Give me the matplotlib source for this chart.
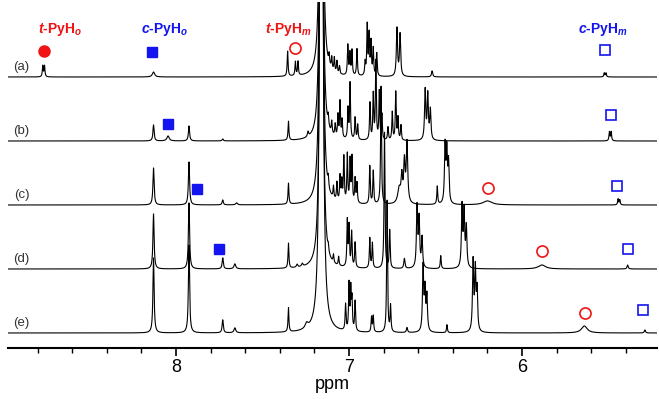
import numpy as np
import matplotlib
matplotlib.use("Agg")
import matplotlib.pyplot as plt

plt.rcParams['font.family'] = ['Liberation Sans', 'DejaVu Sans']
plt.rcParams['mathtext.fontset'] = 'custom'
plt.rcParams['mathtext.rm'] = 'Liberation Sans'
plt.rcParams['mathtext.it'] = 'Liberation Sans:italic'
plt.rcParams['mathtext.bf'] = 'Liberation Sans:bold'
plt.rcParams['mathtext.bfit'] = 'Liberation Sans:italic:bold'

RED = '#f01414'
BLUE = '#1414f0'

trace_names = ["(a)", "(b)", "(c)", "(d)", "(e)"]

# peak lists: (shift ppm, intensity, half width ppm)
peaks_a = [(8.77, 11, 0.003), (8.76, 11, 0.003), (8.13, 5, 0.008), (7.355, 25, 0.003),
           (7.31, 14, 0.003), (7.295, 14, 0.003), (7.16, 13000, 0.0015),
           (7.115, 10, 0.003), (7.10, 12, 0.003), (7.085, 14, 0.003), (7.07, 12, 0.003),
           (7.055, 8, 0.003), (7.007, 30, 0.003), (6.995, 22, 0.003), (6.983, 25, 0.003),
           (6.954, 27, 0.003), (6.907, 13, 0.003), (6.895, 50, 0.003), (6.884, 40, 0.003),
           (6.873, 33, 0.003), (6.86, 27, 0.003), (6.84, 23, 0.003), (6.723, 48, 0.004),
           (6.705, 42, 0.004), (6.52, 6, 0.004), (5.525, 4, 0.003), (5.515, 4, 0.003)]

peaks_b = [(8.13, 16, 0.004), (8.046, 5, 0.008), (7.925, 15, 0.004), (7.73, 2, 0.004),
           (7.35, 19, 0.003), (7.237, 5, 0.004), (7.16, 13000, 0.0015),
           (7.12, 10, 0.003), (7.10, 12, 0.003), (7.08, 12, 0.003), (7.064, 22, 0.003),
           (7.052, 36, 0.003), (7.04, 18, 0.003), (7.006, 30, 0.003), (6.994, 56, 0.003),
           (6.965, 22, 0.003), (6.95, 15, 0.003), (6.879, 37, 0.003), (6.86, 45, 0.003),
           (6.845, 78, 0.003), (6.825, 48, 0.003), (6.81, 25, 0.003), (6.775, 13, 0.003),
           (6.75, 28, 0.003), (6.73, 48, 0.003), (6.717, 22, 0.003), (6.70, 15, 0.003),
           (6.56, 50, 0.004), (6.545, 45, 0.004), (6.53, 30, 0.004),
           (5.495, 9, 0.003), (5.485, 9, 0.003)]

peaks_c = [(8.13, 37, 0.004), (7.925, 43, 0.004), (7.73, 5, 0.004), (7.65, 2, 0.006),
           (7.35, 21, 0.003), (7.16, 15000, 0.0015),
           (7.12, 10, 0.003), (7.09, 12, 0.003), (7.07, 18, 0.003), (7.052, 25, 0.003),
           (7.042, 20, 0.003), (7.03, 45, 0.003), (7.01, 48, 0.003), (6.994, 42, 0.003),
           (6.983, 45, 0.003), (6.965, 24, 0.003), (6.954, 20, 0.003), (6.88, 38, 0.003),
           (6.86, 33, 0.003), (6.815, 118, 0.003), (6.71, 15, 0.01), (6.695, 25, 0.005),
           (6.68, 40, 0.005), (6.665, 60, 0.005), (6.49, 18, 0.003),
           (6.445, 57, 0.004), (6.435, 50, 0.004), (6.425, 40, 0.004),
           (6.20, 4, 0.03), (5.445, 6, 0.003), (5.435, 5, 0.003)]

peaks_d = [(8.13, 55, 0.004), (7.925, 66, 0.004), (7.73, 11, 0.004), (7.66, 5, 0.006),
           (7.35, 25, 0.003), (7.30, 3, 0.005), (7.27, 3, 0.005), (7.16, 15000, 0.0015),
           (7.12, 6, 0.003), (7.09, 8, 0.003), (7.06, 9, 0.003),
           (7.01, 46, 0.003), (7.0, 40, 0.003), (6.985, 35, 0.003), (6.965, 25, 0.003),
           (6.88, 30, 0.003), (6.865, 25, 0.003), (6.795, 136, 0.003), (6.765, 38, 0.003),
           (6.68, 10, 0.004), (6.607, 61, 0.004), (6.595, 48, 0.004), (6.578, 30, 0.004),
           (6.47, 13, 0.003), (6.347, 61, 0.004), (6.335, 55, 0.004), (6.322, 40, 0.004),
           (5.885, 4, 0.025), (5.39, 4, 0.004)]

peaks_e = [(8.13, 75, 0.004), (7.925, 88, 0.004), (7.73, 13, 0.004), (7.66, 5, 0.006),
           (7.35, 24, 0.003), (7.245, 5, 0.01), (7.16, 20000, 0.0015),
           (7.02, 26, 0.003), (7.0, 46, 0.003), (6.99, 40, 0.003), (6.983, 30, 0.003),
           (6.965, 30, 0.003), (6.87, 15, 0.003), (6.86, 16, 0.003), (6.78, 132, 0.003),
           (6.76, 26, 0.003), (6.665, 5, 0.004), (6.572, 65, 0.004), (6.561, 40, 0.004),
           (6.55, 35, 0.004), (6.434, 8, 0.003), (6.283, 70, 0.004), (6.27, 60, 0.004),
           (6.26, 40, 0.004), (5.64, 7, 0.02), (5.29, 3, 0.004)]

all_peaks = [peaks_a, peaks_b, peaks_c, peaks_d, peaks_e]

# assigned signals (shift of each marker), nan = not marked
tPyHo_ppm = [8.765, np.nan, np.nan, np.nan, np.nan]
cPyHo_ppm = [8.14, 8.046, 7.879, 7.751, np.nan]
tPyHm_ppm = [7.312, np.nan, 6.197, 5.884, 5.636]
cPyHm_ppm = [5.52, 5.486, 5.451, 5.387, 5.30]

label_texts = [r'$\mathbfit{t}$-PyH$_{\mathbfit{o}}$', r'$\mathbfit{c}$-PyH$_{\mathbfit{o}}$',
               r'$\mathbfit{t}$-PyH$_{\mathbfit{m}}$', r'$\mathbfit{c}$-PyH$_{\mathbfit{m}}$']
label_ppm = [8.67, 8.064, 7.353, 5.532]
label_colors = [RED, BLUE, RED, BLUE]

# layout
offsets = [271, 207, 143, 79, 15]
lift_tHo = [26, 0, 0, 0, 0]
lift_cHo = [25, 17, 16, 20, 0]
lift_tHm = [29, 0, 17, 18, 20]
lift_cHm = [27, 26, 19, 20, 23]

ppm = np.linspace(9.1, 5.1, 20000)


def spectrum(peaks):
    y = np.zeros_like(ppm)
    for pos, h, w in peaks:
        y += h * w**2 / ((ppm - pos)**2 + w**2)
    return y


fig = plt.figure(figsize=(6.59, 3.99), dpi=100)
ax = fig.add_axes([8/659, 51/399, 649/659, 346/399])

for i, peaks in enumerate(all_peaks):
    off = offsets[i]
    ax.plot(ppm, spectrum(peaks) + off, color='black', lw=0.8)
    ax.text(8.893, off + 10, trace_names[i], fontsize=9.5, color='#333333',
            ha='center', va='center')

    ax.plot(tPyHo_ppm[i], off + lift_tHo[i], 'o', ms=8, color=RED)
    ax.plot(cPyHo_ppm[i], off + lift_cHo[i], 's', ms=6.5, color=BLUE)
    ax.plot(tPyHm_ppm[i], off + lift_tHm[i], 'o', ms=8, mfc='none', mec=RED, mew=1.2)
    ax.plot(cPyHm_ppm[i], off + lift_cHm[i], 's', ms=7, mfc='none', mec=BLUE, mew=1.2)

for txt, x, c in zip(label_texts, label_ppm, label_colors):
    ax.text(x, 319, txt, color=c, fontsize=10, fontweight='bold', ha='center', va='center')

ax.set_xlim(8.971, 5.22)
ax.set_ylim(0, 346)
for s in ['top', 'right', 'left']:
    ax.spines[s].set_visible(False)
ax.spines['bottom'].set_linewidth(1.5)
ax.set_yticks([])
ax.set_xticks([8, 7, 6])
ax.set_xticks(np.arange(5.4, 9.0, 0.2), minor=True)
ax.tick_params(axis='x', which='major', length=6, width=1.2, labelsize=13, pad=2)
ax.tick_params(axis='x', which='minor', length=3.5, width=1.0)
ax.set_xlabel('ppm', fontsize=13, labelpad=0)

fig.savefig('out.png', dpi=100)
